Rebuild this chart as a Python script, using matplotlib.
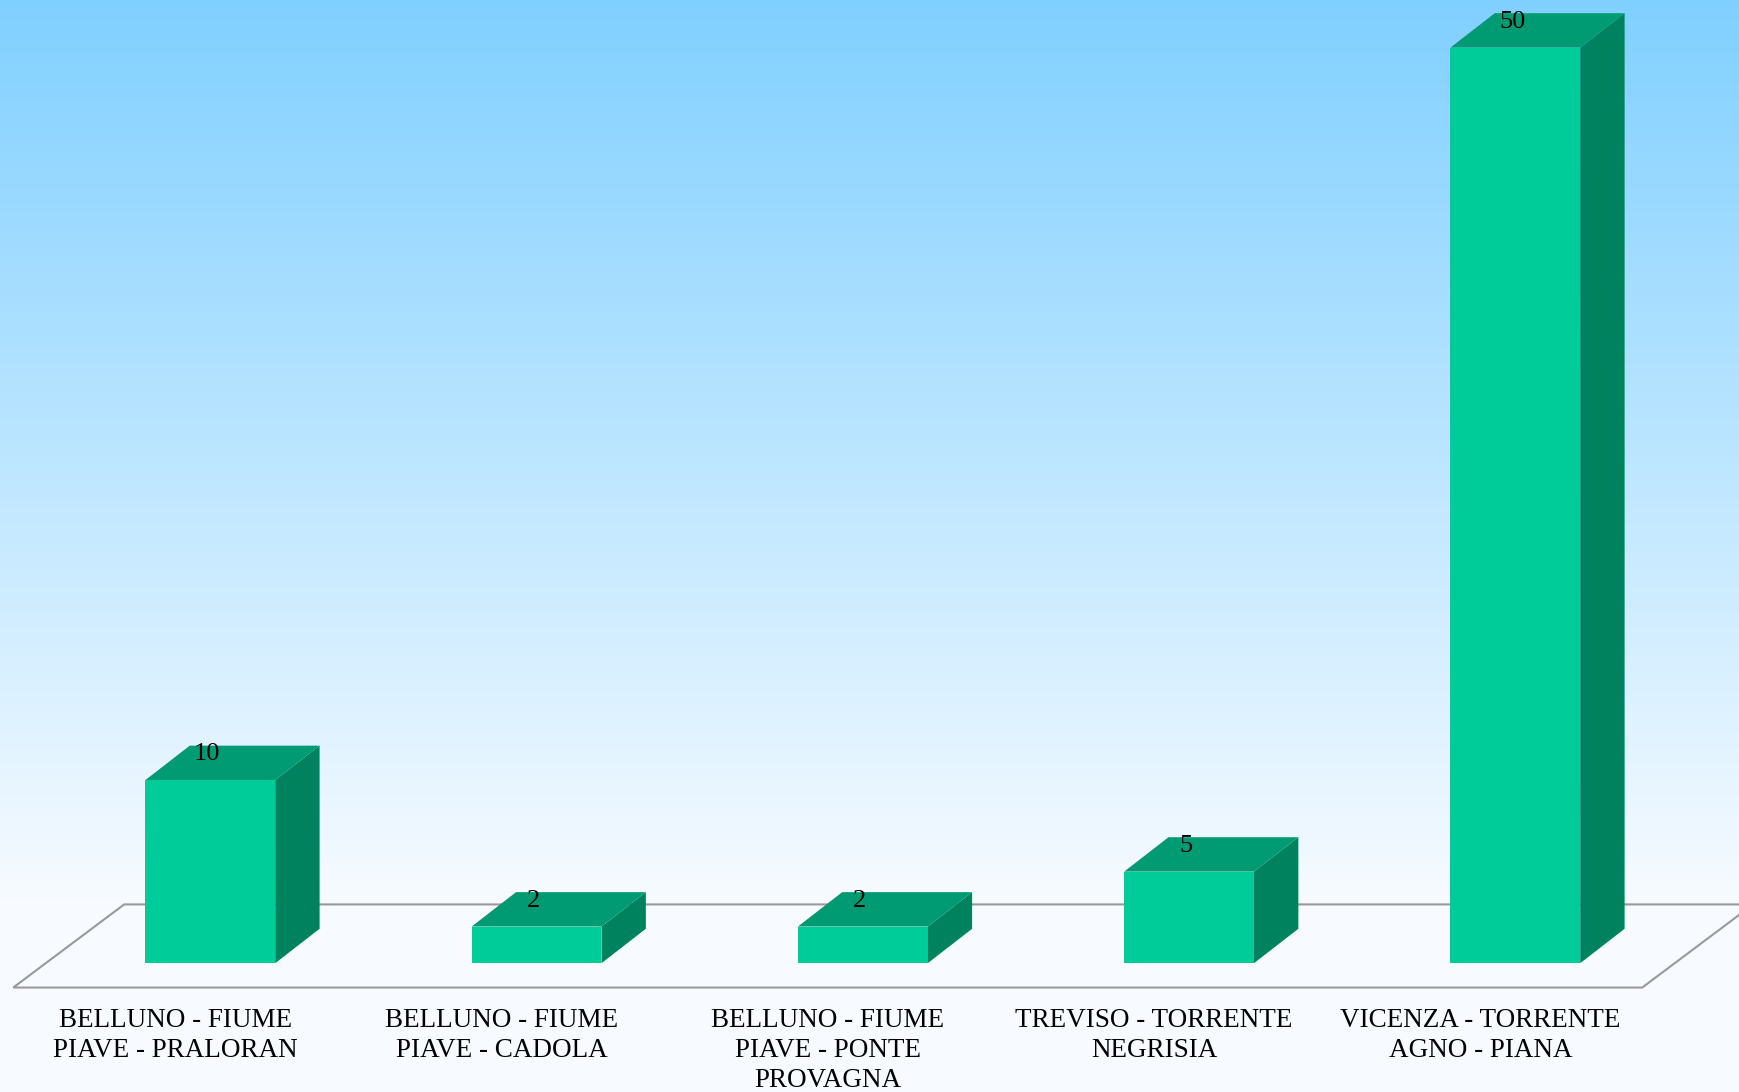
import matplotlib.pyplot as plt
from matplotlib.patches import Polygon
import numpy as np

categories = ['BELLUNO - FIUME\nPIAVE - PRALORAN',
              'BELLUNO - FIUME\nPIAVE - CADOLA',
              'BELLUNO - FIUME\nPIAVE - PONTE\nPROVAGNA',
              'TREVISO - TORRENTE\nNEGRISIA',
              'VICENZA - TORRENTE\nAGNO - PIANA']
values = [10, 2, 2, 5, 50]

front_col = '#00CC99'
top_col = '#009B73'
side_col = '#00825F'

width = 0.398   # bar width in category units
dx = 0.136      # 3d depth, x
dy = 1.88       # 3d depth, y (value units)

fig = plt.figure(figsize=(17.4, 10.92), dpi=100)
ax = fig.add_axes([0, 0, 1, 1])
xlim = (-0.6446, 4.6887)
ylim = (-7.034, 52.6)
ax.set_xlim(xlim)
ax.set_ylim(ylim)
ax.axis('off')

# background gradient
rows = 1092
t = np.clip(np.arange(rows) / 900.0, 0, 1)[:, None]
c0 = np.array([128, 208, 255]) / 255
c1 = np.array([247, 251, 255]) / 255
grad = c0 * (1 - t) + c1 * t
grad = np.repeat(grad[:, None, :], 2, axis=1).reshape(rows, 2, 3)
ax.imshow(grad, extent=[xlim[0], xlim[1], ylim[0], ylim[1]], aspect='auto',
          zorder=0, origin='upper')

# floor
fl, fr = -0.604, 4.389
fb, ff = 3.21, -1.33
off = 0.34
floor = Polygon([(fl, ff), (fr, ff), (fr + off, fb), (fl + off, fb)],
                closed=True, facecolor='#F7FBFF', edgecolor='#999999',
                linewidth=1.5, zorder=1)
ax.add_patch(floor)

x = np.arange(len(values))
for xi, v in zip(x, values):
    l, r = xi - width / 2, xi + width / 2
    side = Polygon([(r, 0), (r + dx, dy), (r + dx, v + dy), (r, v)],
                   facecolor=side_col, edgecolor='none', zorder=2)
    top = Polygon([(l, v), (l + dx, v + dy), (r + dx, v + dy), (r, v)],
                  facecolor=top_col, edgecolor='none', zorder=2)
    ax.add_patch(side)
    ax.add_patch(top)
    ax.text(xi - 0.01, v + 1.4, str(v), ha='center', va='center',
            fontsize=19, family='Liberation Serif', zorder=4)

ax.bar(x, values, width=width, color=front_col, zorder=3)

for xi, lab in zip(x, categories):
    ax.text(xi - 0.107, -2.42, lab, ha='center', va='top',
            multialignment='center', fontsize=19.5,
            family='Liberation Serif', linespacing=1.28, zorder=4)

plt.savefig('out.png', dpi=100)
